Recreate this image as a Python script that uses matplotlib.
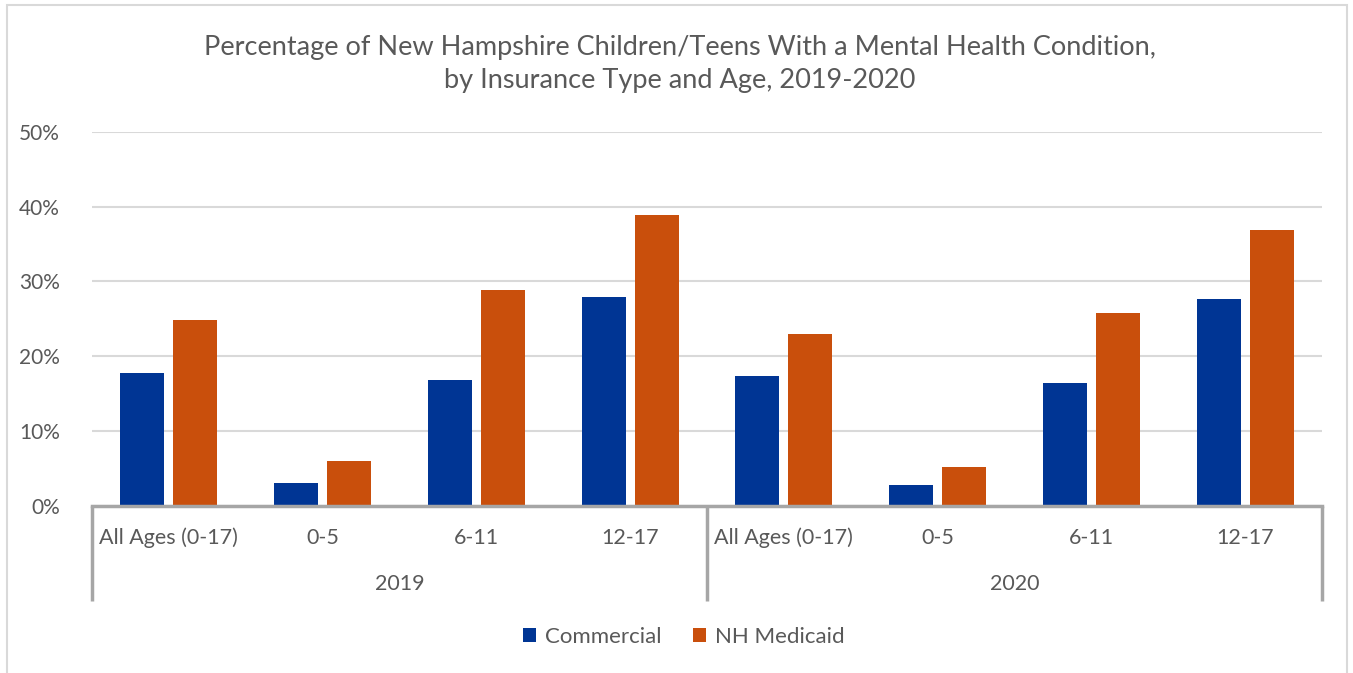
import matplotlib.pyplot as plt
from matplotlib.patches import Rectangle
from matplotlib.ticker import FuncFormatter

plt.rcParams['font.family'] = ['Lato', 'DejaVu Sans']

years = ['2019', '2020']
ages = ['All Ages (0-17)', '0-5', '6-11', '12-17']
commercial = [17.7, 3.0, 16.8, 27.9, 17.3, 2.8, 16.4, 27.7]
medicaid = [24.8, 5.9, 28.9, 38.9, 23.0, 5.2, 25.8, 36.9]

BLUE = '#003594'
ORANGE = '#C94F0C'
TXT = '#595959'
GRID = '#D9D9D9'
AXIS = '#A6A6A6'

W, H = 1353, 673
fig = plt.figure(figsize=(W / 100, H / 100), dpi=100)

# chart frame
fig.patches.append(Rectangle((7 / W, -0.01), (1347 - 7) / W, 1 - 5 / H + 0.01,
                             transform=fig.transFigure, fill=False,
                             edgecolor=GRID, linewidth=1.5))

ax_h = (505.5 - 132) / H
ax = fig.add_axes([92 / W, (H - 505.5) / H, (1322 - 92) / W, ax_h])

n = len(commercial)
x = list(range(n))
bw = 0.286
off = 0.1725
ax.bar([i - off for i in x], commercial, bw, color=BLUE, label='Commercial', zorder=3)
ax.bar([i + off for i in x], medicaid, bw, color=ORANGE, label='NH Medicaid', zorder=3)

ax.set_xlim(-0.5, n - 0.5)
ax.set_ylim(0, 50)
ax.set_yticks(range(0, 51, 10))
ax.yaxis.set_major_formatter(FuncFormatter(lambda v, p: '{:.0f}%'.format(v)))
ax.grid(axis='y', color=GRID, linewidth=1.5, zorder=0)
ax.tick_params(axis='y', length=0, pad=23, labelsize=15, labelcolor=TXT)
ax.set_xticks([])
for s in ['top', 'right', 'left']:
    ax.spines[s].set_visible(False)
ax.spines['bottom'].set_color(AXIS)
ax.spines['bottom'].set_linewidth(2.5)
ax.spines['bottom'].set_zorder(4)

# multi-level category axis
tr = ax.get_xaxis_transform()
px = 1 / (505.5 - 132)
low = -95 * px
for xs in [-0.5, 3.5, 7.5]:
    ax.plot([xs, xs], [0, low], transform=tr, color=AXIS, linewidth=2.5,
            clip_on=False, solid_capstyle='butt')
for i in x:
    ax.text(i, -32 * px, ages[i % 4], transform=tr, ha='center', va='center',
            fontsize=15.5, color=TXT)
for g, yr in enumerate(years):
    ax.text(g * 4 + 1.5, -79 * px, yr, transform=tr, ha='center', va='center',
            fontsize=15.5, color=TXT)

fig.text(680 / W, 1 - 64 / H,
         'Percentage of New Hampshire Children/Teens With a Mental Health Condition,\n'
         'by Insurance Type and Age, 2019-2020',
         ha='center', va='center', fontsize=19.5, color=TXT, linespacing=1.38)

fig.legend(loc='center', bbox_to_anchor=(684 / W, 1 - 637 / H), ncol=2,
           frameon=False, fontsize=16, labelcolor=TXT, handlelength=0.6,
           handleheight=0.6, handletextpad=0.4, columnspacing=1.4)

plt.savefig('out.png', dpi=100)
